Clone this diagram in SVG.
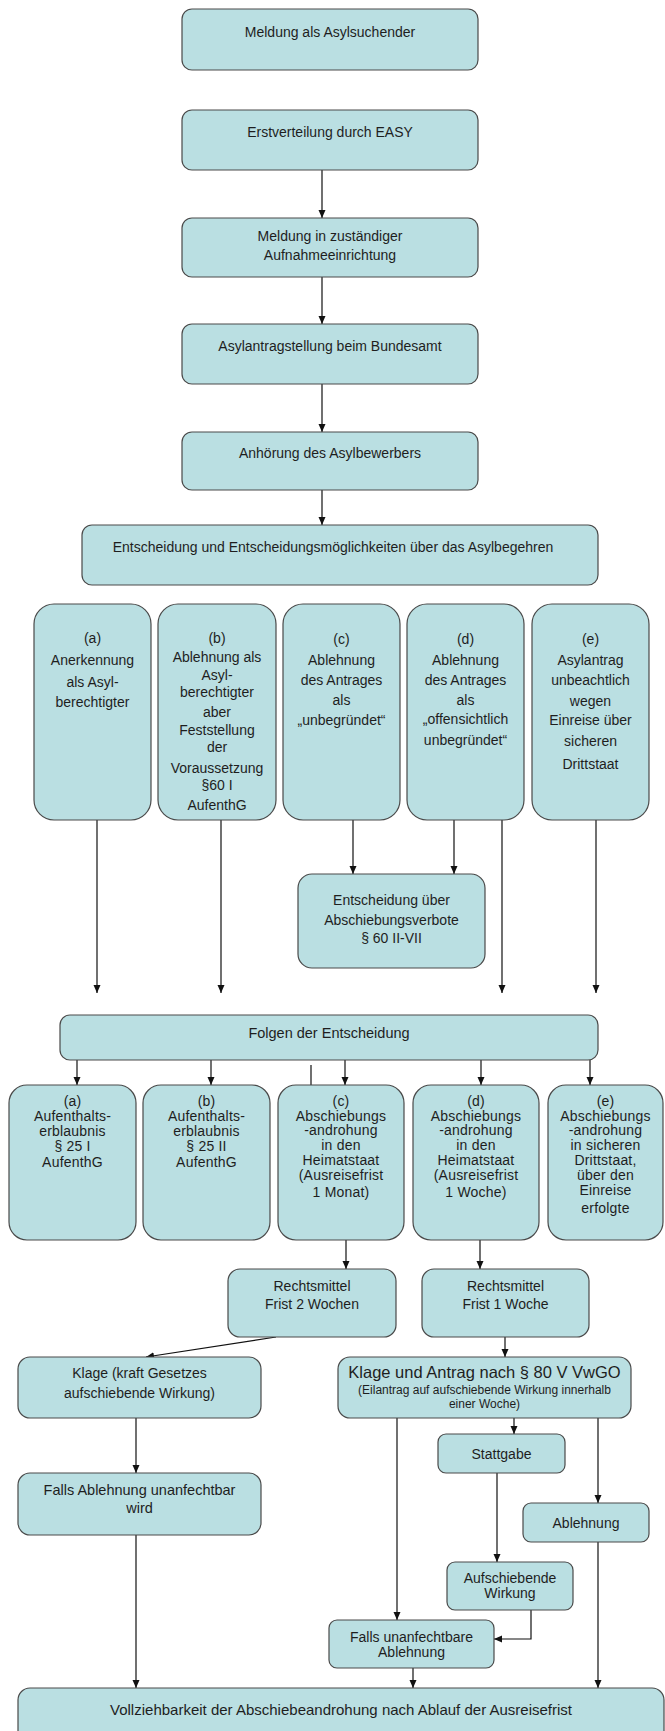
<svg xmlns="http://www.w3.org/2000/svg" width="665" height="1731" viewBox="0 0 665 1731">
<style>
rect{fill:#badfe2;stroke:#4a4a4a;stroke-width:1.2}
text{font-family:"Liberation Sans",Arial,sans-serif;fill:#1e1e1e;text-anchor:middle;font-size:14px}
.s13{font-size:13px}
.r{font-size:14.2px;letter-spacing:0.2px}
.sm{font-size:12px}
.big{font-size:16.5px}
.m{font-size:14.5px}
.v{font-size:15px}
#connectors line,#connectors path{stroke:#111;stroke-width:1.2;fill:none}
</style>
<defs>
<marker id="ah" markerWidth="8" markerHeight="8" refX="8" refY="4" orient="auto" markerUnits="userSpaceOnUse"><path d="M0,0.5 L8,4 L0,7.5 z" fill="#111"/></marker>
</defs>
<g id="connectors">
<line x1="322" y1="170" x2="322" y2="218" marker-end="url(#ah)"/>
<line x1="322" y1="277" x2="322" y2="324" marker-end="url(#ah)"/>
<line x1="322" y1="384" x2="322" y2="432" marker-end="url(#ah)"/>
<line x1="322" y1="490" x2="322" y2="525" marker-end="url(#ah)"/>
<line x1="97" y1="820" x2="97" y2="993" marker-end="url(#ah)"/>
<line x1="221" y1="820" x2="221" y2="993" marker-end="url(#ah)"/>
<line x1="353" y1="820" x2="353" y2="874" marker-end="url(#ah)"/>
<line x1="454" y1="820" x2="454" y2="874" marker-end="url(#ah)"/>
<line x1="502" y1="820" x2="502" y2="993" marker-end="url(#ah)"/>
<line x1="596" y1="820" x2="596" y2="993" marker-end="url(#ah)"/>
<line x1="77" y1="1060" x2="77" y2="1085" marker-end="url(#ah)"/>
<line x1="211" y1="1060" x2="211" y2="1085" marker-end="url(#ah)"/>
<line x1="345" y1="1060" x2="345" y2="1085" marker-end="url(#ah)"/>
<line x1="481" y1="1060" x2="481" y2="1085" marker-end="url(#ah)"/>
<line x1="590" y1="1060" x2="590" y2="1085" marker-end="url(#ah)"/>
<line x1="311" y1="1065" x2="311" y2="1085"/>
<line x1="346" y1="1240" x2="346" y2="1269" marker-end="url(#ah)"/>
<line x1="480" y1="1240" x2="480" y2="1269" marker-end="url(#ah)"/>
<line x1="276" y1="1337" x2="146" y2="1357" marker-end="url(#ah)"/>
<line x1="505" y1="1337" x2="505" y2="1357" marker-end="url(#ah)"/>
<line x1="136" y1="1418" x2="136" y2="1473" marker-end="url(#ah)"/>
<line x1="397" y1="1418" x2="397" y2="1620" marker-end="url(#ah)"/>
<line x1="514" y1="1418" x2="514" y2="1434" marker-end="url(#ah)"/>
<line x1="598" y1="1418" x2="598" y2="1503" marker-end="url(#ah)"/>
<line x1="497" y1="1473" x2="497" y2="1562" marker-end="url(#ah)"/>
<path d="M531,1610 V1639 H494" marker-end="url(#ah)"/>
<line x1="136" y1="1535" x2="136" y2="1688" marker-end="url(#ah)"/>
<line x1="413" y1="1668" x2="413" y2="1688" marker-end="url(#ah)"/>
<line x1="598" y1="1542" x2="598" y2="1688" marker-end="url(#ah)"/>
</g>
<g id="n1"><rect x="182" y="9" width="296" height="61" rx="10"/><text x="330" y="37">Meldung als Asylsuchender</text></g>
<g id="n2"><rect x="182" y="110" width="296" height="60" rx="10"/><text x="330" y="137">Erstverteilung durch EASY</text></g>
<g id="n3"><rect x="182" y="218" width="296" height="59" rx="10"/><text x="330" y="241">Meldung in zuständiger</text><text x="330" y="260">Aufnahmeeinrichtung</text></g>
<g id="n4"><rect x="182" y="324" width="296" height="60" rx="10"/><text x="330" y="351">Asylantragstellung beim Bundesamt</text></g>
<g id="n5"><rect x="182" y="432" width="296" height="58" rx="10"/><text x="330" y="458">Anhörung des Asylbewerbers</text></g>
<g id="n6"><rect x="82" y="525" width="516" height="60" rx="10"/><text x="333" y="552">Entscheidung und Entscheidungsmöglichkeiten über das Asylbegehren</text></g>
<g id="colA"><rect x="34" y="604" width="117" height="216" rx="20"/>
<text x="92.5" y="643">(a)</text><text x="92.5" y="665">Anerkennung</text><text x="92.5" y="687">als Asyl-</text><text x="92.5" y="707">berechtigter</text></g>
<g id="colB"><rect x="158" y="604" width="118" height="216" rx="20"/>
<g class="s13"><text x="217" y="643">(b)</text><text x="217" y="662">Ablehnung als</text><text x="217" y="680">Asyl-</text><text x="217" y="697">berechtigter</text><text x="217" y="717">aber</text><text x="217" y="735">Feststellung</text><text x="217" y="752">der</text><text x="217" y="773">Voraussetzung</text><text x="217" y="790">§60 I</text><text x="217" y="810">AufenthG</text></g></g>
<g id="colC"><rect x="283" y="604" width="117" height="216" rx="20"/>
<text x="341.5" y="644">(c)</text><text x="341.5" y="665">Ablehnung</text><text x="341.5" y="685">des Antrages</text><text x="341.5" y="705">als</text><text x="341.5" y="725">„unbegründet“</text></g>
<g id="colD"><rect x="407" y="604" width="117" height="216" rx="20"/>
<text x="465.5" y="644">(d)</text><text x="465.5" y="665">Ablehnung</text><text x="465.5" y="685">des Antrages</text><text x="465.5" y="705">als</text><text x="465.5" y="724">„offensichtlich</text><text x="465.5" y="745">unbegründet“</text></g>
<g id="colE"><rect x="532" y="604" width="117" height="216" rx="20"/>
<text x="590.5" y="644">(e)</text><text x="590.5" y="665">Asylantrag</text><text x="590.5" y="685">unbeachtlich</text><text x="590.5" y="706">wegen</text><text x="590.5" y="725">Einreise über</text><text x="590.5" y="746">sicheren</text><text x="590.5" y="769">Drittstaat</text></g>
<g id="nAV"><rect x="298" y="874" width="187" height="94" rx="14"/>
<text x="391.5" y="905">Entscheidung über</text><text x="391.5" y="925">Abschiebungsverbote</text><text x="391.5" y="943">§ 60 II-VII</text></g>
<g id="folgen"><rect x="60" y="1015" width="538" height="45" rx="10"/><text x="329" y="1038" class="m">Folgen der Entscheidung</text></g>
<g id="rA" class="r"><rect x="9" y="1085" width="127" height="155" rx="18"/>
<text x="72.5" y="1106">(a)</text><text x="72.5" y="1121">Aufenthalts-</text><text x="72.5" y="1136">erblaubnis</text><text x="72.5" y="1151">§ 25 I</text><text x="72.5" y="1167">AufenthG</text></g>
<g id="rB" class="r"><rect x="143" y="1085" width="127" height="155" rx="18"/>
<text x="206.5" y="1106">(b)</text><text x="206.5" y="1121">Aufenthalts-</text><text x="206.5" y="1136">erblaubnis</text><text x="206.5" y="1151">§ 25 II</text><text x="206.5" y="1167">AufenthG</text></g>
<g id="rC" class="r"><rect x="278" y="1085" width="126" height="155" rx="18"/>
<text x="341" y="1106">(c)</text><text x="341" y="1121">Abschiebungs</text><text x="341" y="1135">-androhung</text><text x="341" y="1150">in den</text><text x="341" y="1165">Heimatstaat</text><text x="341" y="1180">(Ausreisefrist</text><text x="341" y="1197">1 Monat)</text></g>
<g id="rD" class="r"><rect x="413" y="1085" width="126" height="155" rx="18"/>
<text x="476" y="1106">(d)</text><text x="476" y="1121">Abschiebungs</text><text x="476" y="1135">-androhung</text><text x="476" y="1150">in den</text><text x="476" y="1165">Heimatstaat</text><text x="476" y="1180">(Ausreisefrist</text><text x="476" y="1197">1 Woche)</text></g>
<g id="rE" class="r"><rect x="548" y="1085" width="115" height="155" rx="18"/>
<text x="605.5" y="1106">(e)</text><text x="605.5" y="1121">Abschiebungs</text><text x="605.5" y="1135">-androhung</text><text x="605.5" y="1150">in sicheren</text><text x="605.5" y="1165">Drittstaat,</text><text x="605.5" y="1180">über den</text><text x="605.5" y="1195">Einreise</text><text x="605.5" y="1213">erfolgte</text></g>
<g id="rm1"><rect x="228" y="1269" width="168" height="68" rx="12"/><text x="312" y="1291">Rechtsmittel</text><text x="312" y="1309">Frist 2 Wochen</text></g>
<g id="rm2"><rect x="422" y="1269" width="167" height="68" rx="12"/><text x="505.5" y="1291">Rechtsmittel</text><text x="505.5" y="1309">Frist 1 Woche</text></g>
<g id="klage1"><rect x="18" y="1357" width="243" height="61" rx="12"/><text x="139.5" y="1378">Klage (kraft Gesetzes</text><text x="139.5" y="1398">aufschiebende Wirkung)</text></g>
<g id="klage2"><rect x="338" y="1357" width="293" height="61" rx="12"/><text x="484.5" y="1378" class="big">Klage und Antrag nach § 80 V VwGO</text><text x="484.5" y="1394" class="sm">(Eilantrag auf aufschiebende Wirkung innerhalb</text><text x="484.5" y="1408" class="sm">einer Woche)</text></g>
<g id="falls1"><rect x="18" y="1473" width="243" height="62" rx="12"/><text x="139.5" y="1495" class="m">Falls Ablehnung unanfechtbar</text><text x="139.5" y="1513" class="m">wird</text></g>
<g id="stattgabe"><rect x="438" y="1434" width="127" height="39" rx="8"/><text x="501.5" y="1459">Stattgabe</text></g>
<g id="ablehnung"><rect x="523" y="1503" width="126" height="39" rx="8"/><text x="586" y="1528">Ablehnung</text></g>
<g id="aufschiebend"><rect x="447" y="1562" width="126" height="48" rx="8"/><text x="510" y="1583">Aufschiebende</text><text x="510" y="1598">Wirkung</text></g>
<g id="falls2"><rect x="329" y="1620" width="165" height="48" rx="8"/><text x="411.5" y="1642">Falls unanfechtbare</text><text x="411.5" y="1657">Ablehnung</text></g>
<g id="voll"><rect x="18" y="1688" width="646" height="60" rx="12"/><text x="341" y="1715" class="v">Vollziehbarkeit der Abschiebeandrohung nach Ablauf der Ausreisefrist</text></g>
</svg>
